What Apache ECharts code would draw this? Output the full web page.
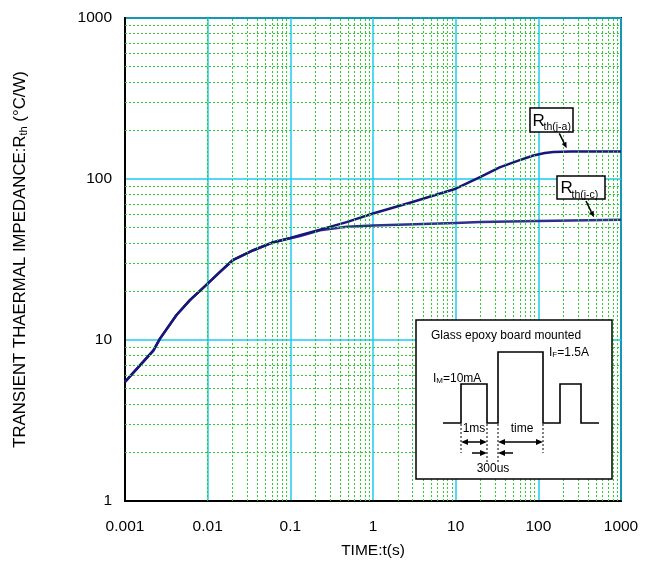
<!DOCTYPE html>
<html>
<head>
<meta charset="utf-8">
<script src="https://cdn.jsdelivr.net/npm/echarts@6/dist/echarts.min.js"></script>
<style>
html,body{margin:0;padding:0;background:#fff;}
#chart{width:651px;height:565px;}
</style>
</head>
<body>
<div id="chart"></div>
<script>
// ---- data ----
const xTickLabels = ['0.001','0.01','0.1','1','10','100','1000'];
const yTickLabels = ['1','10','100','1000'];

const jaTime = [0.001,0.0022,0.00265,0.0042,0.0061,0.01,0.0141,0.0204,0.0357,0.06,0.1,0.131,0.229,0.48,1,3,10,20,34,55,87,120,152,250,1000];
const jaVal  = [5.5,8.6,10.2,14.3,17.7,22.4,26.5,31.5,36.1,40.3,43.0,44.7,48.5,54,61,72,87,103,118,129,140,145,147,148,148];

const jcTime = [0.001,0.0022,0.00265,0.0042,0.0061,0.01,0.0141,0.0204,0.0357,0.06,0.1,0.131,0.229,0.331,0.48,1,10,20,100,1000];
const jcVal  = [5.5,8.6,10.2,14.3,17.7,22.4,26.5,31.5,36.1,40.1,42.8,44.2,48.0,49.3,50.5,51.5,53.3,54.0,54.8,55.9];

const FONT = '"Liberation Sans", Arial, sans-serif';

// minor log grid positions (2..9 per decade)
const xMinor = [];
for (let d = -3; d < 3; d++) for (let k = 2; k <= 9; k++) xMinor.push(+(k * Math.pow(10, d)).toPrecision(3));
const yMinor = [];
for (let d = 0; d < 3; d++) for (let k = 2; k <= 9; k++) yMinor.push(k * Math.pow(10, d));

function pairs(t, v) { return t.map((x, i) => [x, v[i]]); }

// ---- annotation graphics ----
const BLACK = '#000';
const g = [];
function line(x1,y1,x2,y2,w,dash){ g.push({type:'line',shape:{x1,y1,x2,y2},style:{stroke:BLACK,lineWidth:w||1.5,lineDash:dash||null},z:100}); }
function text(x,y,s,size,align,valign){ g.push({type:'text',x,y,style:{text:s,fontSize:size,fontFamily:FONT,fill:BLACK,textAlign:align||'left',textVerticalAlign:valign||'middle'},z:101}); }
function arrow(x1,y1,x2,y2,len,hw){
  const dx=x2-x1, dy=y2-y1, L=Math.hypot(dx,dy), ux=dx/L, uy=dy/L;
  const bx=x2-ux*len, by=y2-uy*len, nx=-uy*hw, ny=ux*hw;
  g.push({type:'line',shape:{x1,y1,x2:bx,y2:by},style:{stroke:BLACK,lineWidth:1.5},z:100});
  g.push({type:'polygon',shape:{points:[[x2,y2],[bx+nx,by+ny],[bx-nx,by-ny]]},style:{fill:BLACK},z:100});
}

// inset box
g.push({type:'rect',shape:{x:416,y:320,width:196,height:159},style:{fill:'#fff',stroke:BLACK,lineWidth:1.5},z:99});
text(431,336,'Glass epoxy board mounted',12);
// waveform
g.push({type:'polyline',shape:{points:[[443,423],[461,423],[461,384],[487,384],[487,423],[498,423],[498,352],[543,352],[543,423],[560,423],[560,384],[581,384],[581,423],[599,423]]},style:{stroke:BLACK,lineWidth:1.6,fill:null},z:100});
// dashed guides
line(461,424,461,453,1,[2,2]);
line(487,424,487,462,1,[2,2]);
line(498,424,498,462,1,[2,2]);
line(543,424,543,453,1,[2,2]);
// I_M / I_F labels
g.push({type:'text',x:433,y:379,style:{text:'{a|I}{b|M}{a|=10mA}',fontFamily:FONT,fill:BLACK,textVerticalAlign:'middle',rich:{a:{fontSize:12,fontFamily:FONT},b:{fontSize:8,fontFamily:FONT,verticalAlign:'bottom',padding:[4,0,0,0]}}},z:101});
g.push({type:'text',x:549,y:353,style:{text:'{a|I}{b|F}{a|=1.5A}',fontFamily:FONT,fill:BLACK,textVerticalAlign:'middle',rich:{a:{fontSize:12,fontFamily:FONT},b:{fontSize:8,fontFamily:FONT,verticalAlign:'bottom',padding:[4,0,0,0]}}},z:101});
text(474,429,'1ms',12,'center');
text(522,429,'time',12,'center');
text(493,469,'300us',12,'center');
// double arrows
arrow(474,442,461,442,7,3); arrow(474,442,487,442,7,3);
arrow(520,442,498,442,7,3); arrow(520,442,543,442,7,3);
// single arrows (300us)
arrow(472,453,487,453,7,3);
arrow(513,453,498,453,7,3);

// R_th label boxes
g.push({type:'rect',shape:{x:530,y:108,width:43,height:24},style:{fill:'#fff',stroke:BLACK,lineWidth:1.5},z:99});
text(532.5,121,'R',17);
text(543.5,127.5,'th(j-a)',10.5);
arrow(559.3,133.3,566.7,148.3,6,2.6);
g.push({type:'rect',shape:{x:557,y:176,width:48,height:23},style:{fill:'#fff',stroke:BLACK,lineWidth:1.5},z:99});
text(560.5,188.5,'R',17);
text(571.5,195.5,'th(j-c)',10.5);
arrow(586,201,594,217.3,6,2.6);

const chart = echarts.init(document.getElementById('chart'));
chart.setOption({
  backgroundColor:'#fff',
  animation:false,
  grid:{left:125,right:30,top:18,bottom:64,show:true,borderColor:'#000',borderWidth:2,backgroundColor:'transparent'},
  xAxis:{
    type:'log',logBase:10,min:0.001,max:1000,
    name:'TIME:t(s)',nameLocation:'middle',nameGap:42,
    nameTextStyle:{fontSize:15.5,fontFamily:FONT,color:'#000'},
    axisLine:{lineStyle:{color:'#000',width:2}},
    axisTick:{show:false},
    axisLabel:{fontSize:15.5,fontFamily:FONT,color:'#000',margin:18,
      formatter:v=>xTickLabels[Math.round(Math.log10(v))+3]},
    splitLine:{show:true,lineStyle:{color:'#1ccbf2',width:1.5}}
  },
  yAxis:{
    type:'log',logBase:10,min:1,max:1000,
    name:'TRANSIENT THAERMAL IMPEDANCE:R{s|th} (°C/W)',nameLocation:'middle',nameGap:96,
    nameTextStyle:{fontSize:16.8,fontFamily:FONT,color:'#000',rich:{s:{fontSize:11,fontFamily:FONT,color:'#000',verticalAlign:'bottom'}}},
    axisLine:{lineStyle:{color:'#000',width:2}},
    axisTick:{show:false},
    axisLabel:{fontSize:15.5,fontFamily:FONT,color:'#000',margin:13,
      formatter:v=>yTickLabels[Math.round(Math.log10(v))]},
    splitLine:{show:true,lineStyle:{color:'#1ccbf2',width:1.5}}
  },
  series:[
    {type:'line',name:'grid',data:[],z:1,silent:true,
     markLine:{silent:true,symbol:'none',label:{show:false},animation:false,
       lineStyle:{color:'#2fcc2f',type:[2,2],width:1},
       data:xMinor.map(v=>({xAxis:v})).concat(yMinor.map(v=>({yAxis:v})))}},
    {type:'line',name:'Rth(j-c)',data:pairs(jcTime,jcVal),showSymbol:false,smooth:false,
     lineStyle:{color:'#30308e',width:2.5,join:'round'},z:3},
    {type:'line',name:'Rth(j-a)',data:pairs(jaTime,jaVal),showSymbol:false,smooth:false,
     lineStyle:{color:'#17177a',width:2.5,join:'round'},z:4}
  ],
  graphic:g
});
</script>
</body>
</html>
